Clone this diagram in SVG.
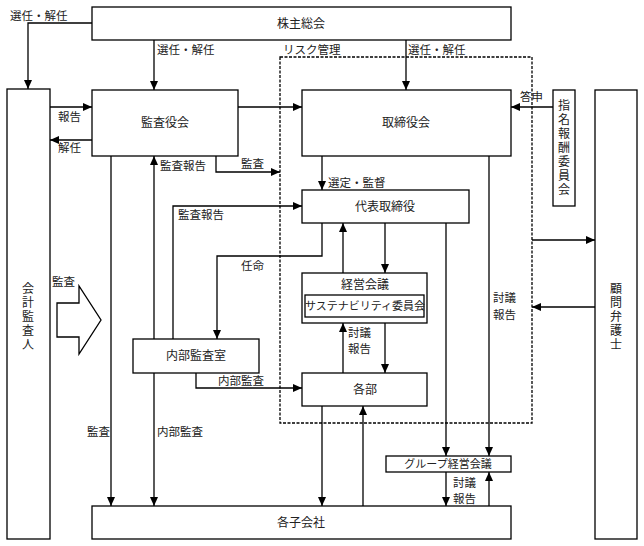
<svg xmlns="http://www.w3.org/2000/svg" width="644" height="546" viewBox="0 0 644 546">
<defs>
<marker id="ah" markerUnits="userSpaceOnUse" markerWidth="9" markerHeight="8" refX="9" refY="4" orient="auto">
<path d="M0,0 L9,4 L0,8 z" fill="#000"/>
</marker>
<style>
.box{fill:#fff;stroke:#000;stroke-width:1.3}
.ln{fill:none;stroke:#000;stroke-width:1.3}
.ar{fill:none;stroke:#000;stroke-width:1.3;marker-end:url(#ah)}
.dash{fill:none;stroke:#000;stroke-width:1.3;stroke-dasharray:3,1.5}
text{font-family:"Noto Sans CJK JP","Noto Sans CJK SC",sans-serif;font-size:12px;fill:#222}
.c{text-anchor:middle}
.l{font-size:11.5px}
.v{writing-mode:vertical-rl;letter-spacing:2px}
</style>
</defs>
<rect width="644" height="546" fill="#fff"/>

<g id="connectors">
<rect class="dash" x="280" y="57" width="252" height="366"/>
<path class="ar" d="M92,23 H28 V89"/>
<path class="ar" d="M154,40 V90"/>
<path class="ar" d="M406,40 V90"/>
<path class="ar" d="M50,107 H92"/>
<path class="ar" d="M92,140 H50"/>
<path class="ar" d="M238,107 H302"/>
<path class="ar" d="M553,107 H511"/>
<path class="ar" d="M154,339 V156"/>
<path class="ar" d="M216,156 V172 H280"/>
<path class="ar" d="M111,156 V506"/>
<path class="ar" d="M154,373 V506"/>
<path class="ar" d="M173,339 V206 H302"/>
<path class="ar" d="M322,156 V190"/>
<path class="ar" d="M322,223 V256 H217 V339"/>
<path class="ar" d="M385,223 V273"/>
<path class="ar" d="M343,273 V223"/>
<path class="ar" d="M385,323 V373"/>
<path class="ar" d="M343,373 V323"/>
<path class="ar" d="M196,373 V388 H302"/>
<path class="ar" d="M446,223 V456"/>
<path class="ar" d="M489,156 V456"/>
<path class="ar" d="M446,472 V506"/>
<path class="ar" d="M489,506 V472"/>
<path class="ar" d="M322,406 V506"/>
<path class="ar" d="M363,506 V406"/>
<path class="ar" d="M532,240 H595"/>
<path class="ar" d="M595,307 H532"/>
<path class="ln" d="M57,303 H79 V286 L101,320 L79,354 V337 H57 Z"/>
</g>

<g id="labels">
<text x="10" y="20" class="l">選任・解任</text>
<text x="157" y="54" class="l">選任・解任</text>
<text x="283" y="54" class="l">リスク管理</text>
<text x="408" y="54" class="l">選任・解任</text>
<text x="58" y="121" class="l">報告</text>
<text x="58" y="152" class="l">解任</text>
<text x="160" y="170" class="l">監査報告</text>
<text x="241" y="168" class="l">監査</text>
<text x="520" y="101" class="l">答申</text>
<text x="328" y="187" class="l">選定・監督</text>
<text x="178" y="219" class="l">監査報告</text>
<text x="241" y="270" class="l">任命</text>
<text x="52" y="286" class="l">監査</text>
<text x="493" y="302" class="l">討議</text>
<text x="493" y="319" class="l">報告</text>
<text x="348" y="337" class="l">討議</text>
<text x="348" y="353" class="l">報告</text>
<text x="218" y="385" class="l">内部監査</text>
<text x="87" y="436" class="l">監査</text>
<text x="157" y="436" class="l">内部監査</text>
<text x="453" y="487" class="l">討議</text>
<text x="453" y="503" class="l">報告</text>
</g>

<g id="kabunushi"><rect class="box" x="92" y="7" width="419" height="33"/><text x="301" y="28" class="c">株主総会</text></g>
<g id="kaikei"><rect class="box" x="7" y="89" width="43" height="450"/>
<text x="28" y="282" class="v">会計監査人</text></g>
<g id="kansayakukai"><rect class="box" x="92" y="90" width="146" height="66"/><text x="165" y="127" class="c">監査役会</text></g>
<g id="torishimariyakukai"><rect class="box" x="302" y="90" width="209" height="66"/><text x="406" y="127" class="c">取締役会</text></g>
<g id="shimei"><rect class="box" x="553" y="90" width="22" height="116"/>
<text x="564" y="99" class="v">指名報酬委員会</text></g>
<g id="komon"><rect class="box" x="595" y="90" width="42" height="449"/>
<text x="616" y="282" class="v">顧問弁護士</text></g>
<g id="daihyo"><rect class="box" x="302" y="190" width="167" height="33"/><text x="385" y="211" class="c">代表取締役</text></g>
<g id="keiei"><rect class="box" x="302" y="273" width="125" height="50"/><text x="365" y="289" class="c">経営会議</text>
<rect class="box" x="305" y="295" width="119" height="22"/><text x="365" y="310" class="c" style="font-size:11px">サステナビリティ委員会</text></g>
<g id="naibu"><rect class="box" x="133" y="339" width="126" height="34"/><text x="196" y="360" class="c">内部監査室</text></g>
<g id="kakubu"><rect class="box" x="302" y="373" width="125" height="33"/><text x="365" y="394" class="c">各部</text></g>
<g id="group"><rect class="box" x="386" y="456" width="125" height="16"/><text x="448" y="468" class="c" style="font-size:11px">グループ経営会議</text></g>
<g id="kogaisha"><rect class="box" x="92" y="506" width="419" height="33"/><text x="301" y="527" class="c">各子会社</text></g>
</svg>
